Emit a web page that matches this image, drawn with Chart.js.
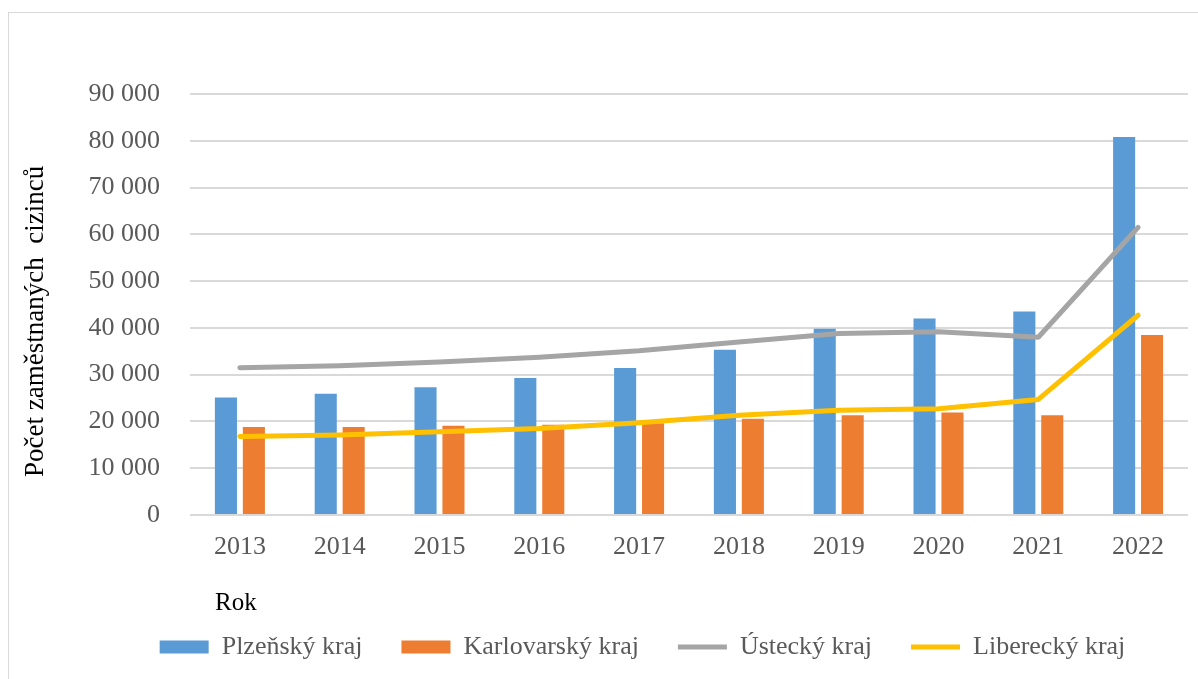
<!DOCTYPE html>
<html>
<head>
<meta charset="utf-8">
<script src="https://cdn.jsdelivr.net/npm/chart.js@4"></script>
<style>
  html, body { margin: 0; padding: 0; background: #fff; overflow: hidden; width: 1198px; height: 679px; }
  #ramecek { position: absolute; left: 8px; top: 12px; border-left: 1px solid #d9d9d9; border-top: 1px solid #d9d9d9; }
  canvas { display: block; }
</style>
</head>
<body>
<div id="ramecek"><canvas id="graf" width="1300" height="666"></canvas></div>
<script>
// data
const roky = ['2013', '2014', '2015', '2016', '2017', '2018', '2019', '2020', '2021', '2022'];
const plzensky = [25100, 25900, 27300, 29300, 31400, 35300, 39800, 42000, 43500, 80800];
const karlovarsky = [18800, 18800, 19100, 19300, 19600, 20600, 21300, 21900, 21300, 38500];
const ustecky = [31500, 31900, 32700, 33700, 35100, 37000, 38800, 39200, 38000, 61500];
const liberecky = [16800, 17100, 17800, 18500, 19700, 21300, 22400, 22700, 24700, 42700];
const popiskyY = ['0', '10 000', '20 000', '30 000', '40 000', '50 000', '60 000', '70 000', '80 000', '90 000'];

const pismo = 'Liberation Serif, Times New Roman, serif';
const seda = '#595959';

// posun legendy doprava, aby seděla jako v originále
const posunLegendy = {
    id: 'posunLegendy',
    afterLayout(chart) {
        chart.legend.left += 44;
        chart.legend.right += 44;
    }
};

var ctx = document.getElementById('graf').getContext('2d');
window.myChart = new Chart(ctx, {
    type: 'bar',
    data: {
        labels: roky,
        datasets: [
            { label: 'Plzeňský kraj', data: plzensky, backgroundColor: '#5B9BD5', pointStyle: 'rect', order: 1,
              categoryPercentage: 0.56, barPercentage: 0.79 },
            { label: 'Karlovarský kraj', data: karlovarsky, backgroundColor: '#ED7D31', pointStyle: 'rect', order: 1,
              categoryPercentage: 0.56, barPercentage: 0.79 },
            { type: 'line', label: 'Ústecký kraj', data: ustecky, borderColor: '#A5A5A5', backgroundColor: '#A5A5A5',
              borderWidth: 5, borderCapStyle: 'round', borderJoinStyle: 'round', pointRadius: 0, pointStyle: 'line', tension: 0, order: 0 },
            { type: 'line', label: 'Liberecký kraj', data: liberecky, borderColor: '#FFC000', backgroundColor: '#FFC000',
              borderWidth: 5, borderCapStyle: 'round', borderJoinStyle: 'round', pointRadius: 0, pointStyle: 'line', tension: 0, order: 0 }
        ]
    },
    options: {
        responsive: false,
        animation: false,
        layout: { padding: { top: 81, right: 121, bottom: 9, left: 0 } },
        plugins: {
            tooltip: { enabled: false },
            legend: {
                position: 'bottom',
                labels: {
                    usePointStyle: true,
                    pointStyleWidth: 49,
                    boxHeight: 13,
                    padding: 39,
                    color: seda,
                    font: { family: pismo, size: 26 },
                    sort: (a, b) => a.datasetIndex - b.datasetIndex
                }
            }
        },
        scales: {
            x: {
                grid: { display: false, drawTicks: false },
                border: { display: false },
                ticks: { color: seda, padding: 17, font: { family: pismo, size: 26 } },
                title: { display: true, text: '    Rok', align: 'start', color: '#000',
                         font: { family: pismo, size: 25 }, padding: { top: 0, bottom: -23 } },
                afterFit: (s) => { s.height = 80; }
            },
            y: {
                min: 0,
                max: 90000,
                grid: { color: '#d9d9d9', lineWidth: 2, drawTicks: false },
                border: { display: false },
                ticks: { stepSize: 10000, color: seda, padding: 30, font: { family: pismo, size: 26 },
                         callback: (v, i) => popiskyY[i] },
                title: { display: true, text: 'Počet zaměstnaných  cizinců     ', color: '#000',
                         font: { family: pismo, size: 27 }, padding: { top: 11, bottom: 30 } },
                afterFit: (s) => { s.width = 181; }
            }
        }
    },
    plugins: [posunLegendy]
});
</script>
</body>
</html>
